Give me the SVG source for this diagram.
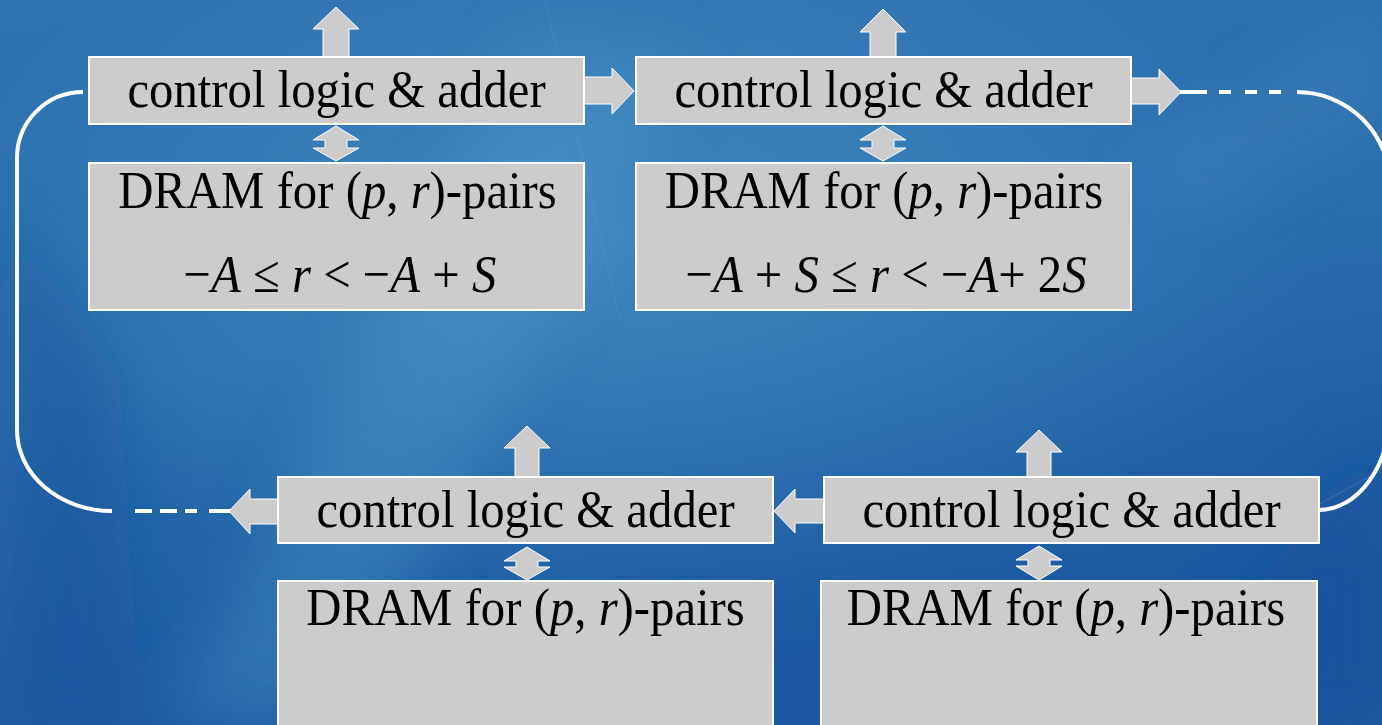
<svg xmlns="http://www.w3.org/2000/svg" width="1382" height="725" viewBox="0 0 1382 725">
  <defs>
    <linearGradient id="bg" x1="0" y1="0" x2="0.3" y2="1">
      <stop offset="0" stop-color="#2e72b0"/>
      <stop offset="0.5" stop-color="#2b6fae"/>
      <stop offset="1" stop-color="#1b58a1"/>
    </linearGradient>
    <radialGradient id="glow" cx="0.45" cy="0.33" r="0.5">
      <stop offset="0" stop-color="#4b95c7" stop-opacity="0.6"/>
      <stop offset="1" stop-color="#4b95c7" stop-opacity="0"/>
    </radialGradient>
    <filter id="soft" x="-20%" y="-20%" width="140%" height="140%">
      <feGaussianBlur stdDeviation="30"/>
    </filter>
    <style>
      .box { fill: #cccccc; stroke: #ffffff; stroke-width: 2; }
      .arrow { fill: #cccccc; stroke: #ffffff; stroke-width: 1; stroke-linejoin: miter; }
      .t { font-family: "Liberation Serif", "Times New Roman", serif; font-size: 53px; fill: #000000; text-anchor: middle; }
      .conn { fill: none; stroke: #ffffff; stroke-width: 4; }
    </style>
  </defs>

  <!-- background -->
  <rect x="0" y="0" width="1382" height="725" fill="url(#bg)"/>
  <rect x="0" y="0" width="1382" height="725" fill="url(#glow)"/>
  <g filter="url(#soft)">
    <polygon points="170,725 330,725 690,60 520,40" fill="#4f9acb" opacity="0.35"/>
    <polygon points="0,200 0,725 140,725 120,380" fill="#164f98" opacity="0.45"/>
    <polygon points="1150,725 1382,420 1382,725" fill="#174f98" opacity="0.5"/>
    <polygon points="1130,160 1382,0 1382,120 1200,210" fill="#5aa3d0" opacity="0.15"/>
  </g>
  <line x1="545" y1="0" x2="620" y2="320" stroke="#6fb0dc" stroke-width="1" opacity="0.2"/>
  <line x1="1290" y1="520" x2="1382" y2="470" stroke="#6fb0dc" stroke-width="1" opacity="0.3"/>

  <!-- connectors -->
  <g id="connectors">
    <path class="conn" d="M1180,92 L1297,92" stroke-dasharray="27 12 12 14 12 12 12 16"/>
    <path class="conn" d="M1297,92 A93,93 0 0 1 1390,185 L1390,411 A71,99 0 0 1 1319,510"/>
    <path class="conn" d="M83,92 A66,66 0 0 0 17,158 L17,430 A95,81 0 0 0 112,511"/>
    <path class="conn" d="M135,511 L152,511 M160,511 L177,511 M185,511 L197,511 M209,511 L231,511"/>
    <polygon class="arrow" points="584,77 612,77 612,68 634,91 612,114 612,104 584,104"/>
    <polygon class="arrow" points="1131,78 1159,78 1159,69 1181,92 1159,115 1159,104 1131,104"/>
    <polygon class="arrow" points="824,499 795,499 795,489 774,511 795,533 795,523 824,523"/>
    <polygon class="arrow" points="278,499 250,499 250,489 229,511 250,534 250,524 278,524"/>
    <polygon class="arrow" points="336,7 359,29 349,29 349,57 323,57 323,29 313,29"/>
    <polygon class="arrow" points="883,9 906,32 896,32 896,57 870,57 870,32 860,32"/>
    <polygon class="arrow" points="527,426 550,448 539,448 539,477 515,477 515,448 504,448"/>
    <polygon class="arrow" points="1039,430 1062,452 1051,452 1051,477 1027,477 1027,452 1016,452"/>
    <polygon class="arrow" points="336,126 359,140 347,140 347,148 359,148 336,161 313,148 325,148 325,140 313,140"/>
    <polygon class="arrow" points="883,126 906,140 894,140 894,148 906,148 883,161 860,148 872,148 872,140 860,140"/>
    <polygon class="arrow" points="527,547 550,561 538,561 538,567 550,567 527,580 504,567 516,567 516,561 504,561"/>
    <polygon class="arrow" points="1039,546 1062,560 1050,560 1050,566 1062,566 1039,580 1016,566 1028,566 1028,560 1016,560"/>
  </g>

  <!-- top row -->
  <g id="ctrl1">
    <rect class="box" x="89" y="57" width="495" height="67"/>
    <text class="t" transform="translate(336.5,107) scale(0.92,1)">control logic &amp; adder</text>
  </g>
  <g id="dram1">
    <rect class="box" x="89" y="163" width="495" height="147"/>
    <text class="t" transform="translate(337.5,208) scale(0.92,1)">DRAM for (<tspan font-style="italic">p</tspan>, <tspan font-style="italic">r</tspan>)-pairs</text>
    <text class="t" transform="translate(340,292) scale(0.92,1)">−<tspan font-style="italic">A</tspan> ≤ <tspan font-style="italic">r</tspan> &lt; −<tspan font-style="italic">A</tspan> + <tspan font-style="italic">S</tspan></text>
  </g>
  <g id="ctrl2">
    <rect class="box" x="636" y="57" width="495" height="67"/>
    <text class="t" transform="translate(883.5,107) scale(0.92,1)">control logic &amp; adder</text>
  </g>
  <g id="dram2">
    <rect class="box" x="636" y="163" width="495" height="147"/>
    <text class="t" transform="translate(884,208) scale(0.92,1)">DRAM for (<tspan font-style="italic">p</tspan>, <tspan font-style="italic">r</tspan>)-pairs</text>
    <text class="t" transform="translate(886,292) scale(0.92,1)">−<tspan font-style="italic">A</tspan> + <tspan font-style="italic">S</tspan> ≤ <tspan font-style="italic">r</tspan> &lt; −<tspan font-style="italic">A</tspan>+ 2<tspan font-style="italic">S</tspan></text>
  </g>

  <!-- bottom row -->
  <g id="ctrl3">
    <rect class="box" x="278" y="477" width="495" height="66"/>
    <text class="t" transform="translate(525.5,527) scale(0.92,1)">control logic &amp; adder</text>
  </g>
  <g id="dram3">
    <rect class="box" x="278" y="581" width="495" height="160"/>
    <text class="t" transform="translate(525.5,625) scale(0.92,1)">DRAM for (<tspan font-style="italic">p</tspan>, <tspan font-style="italic">r</tspan>)-pairs</text>
  </g>
  <g id="ctrl4">
    <rect class="box" x="824" y="477" width="495" height="66"/>
    <text class="t" transform="translate(1071.5,527) scale(0.92,1)">control logic &amp; adder</text>
  </g>
  <g id="dram4">
    <rect class="box" x="821" y="581" width="496" height="160"/>
    <text class="t" transform="translate(1066,625) scale(0.92,1)">DRAM for (<tspan font-style="italic">p</tspan>, <tspan font-style="italic">r</tspan>)-pairs</text>
  </g>
</svg>
